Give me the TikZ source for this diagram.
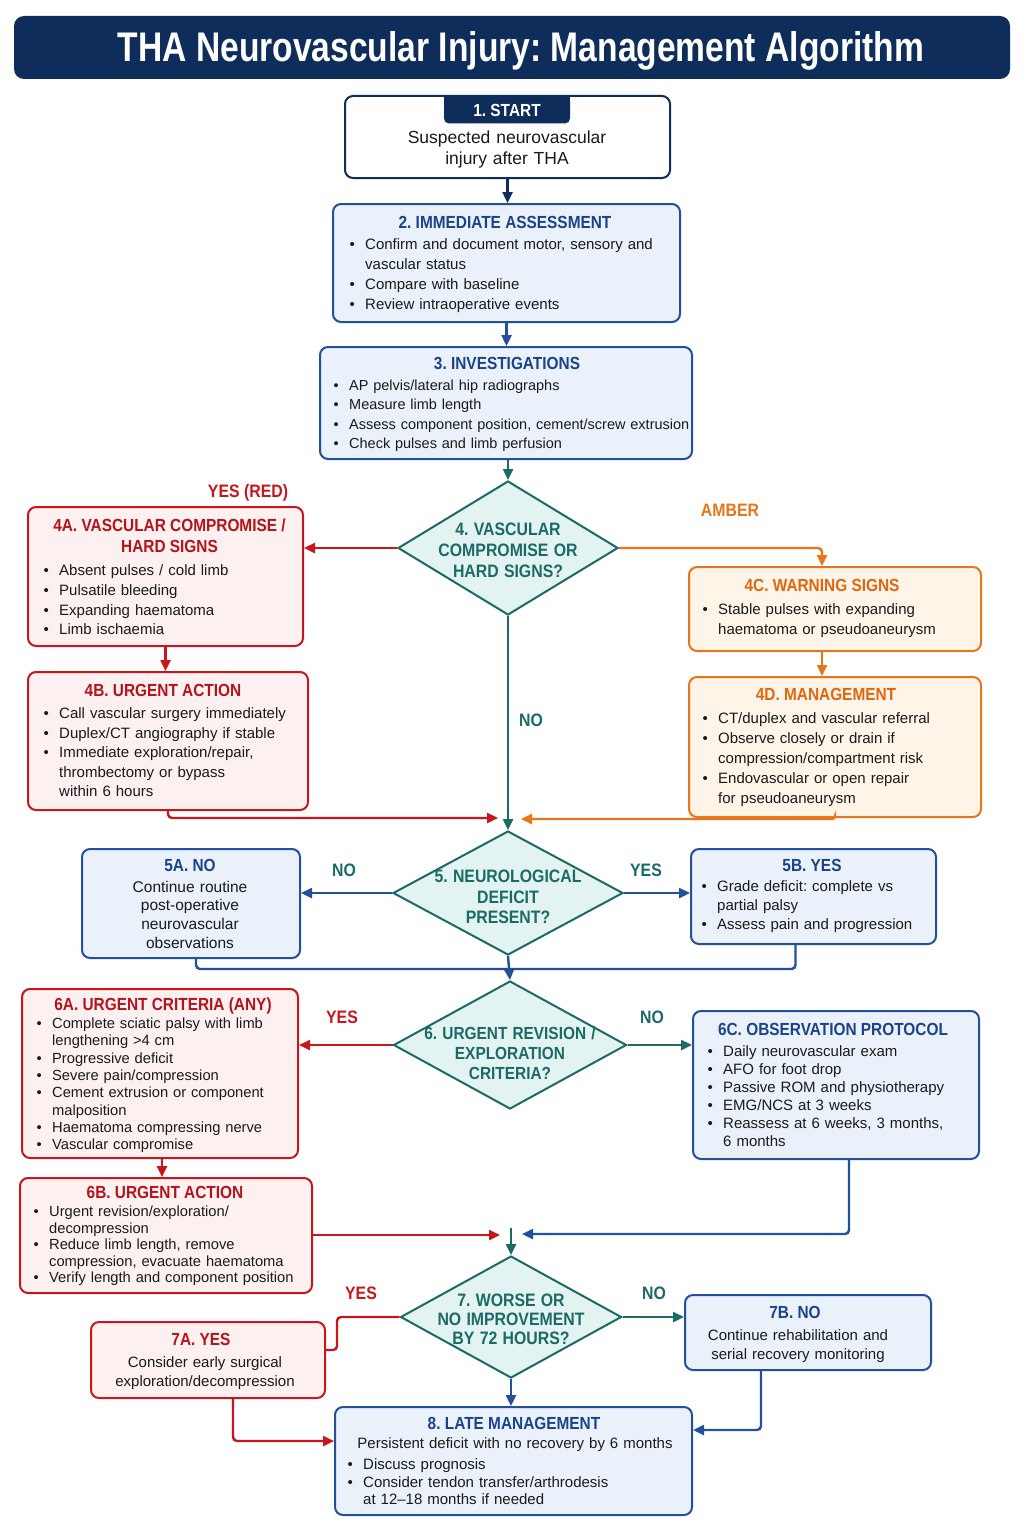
\documentclass[tikz,border=0pt]{standalone}
\usepackage{fontspec}
\setmainfont{Liberation Sans}
\usepackage{graphicx}
\usetikzlibrary{arrows.meta,shapes.geometric}
\definecolor{navy}{HTML}{0E2D5A}
\definecolor{bluec}{HTML}{22509C}
\definecolor{bluet}{HTML}{1A438A}
\definecolor{bluef}{HTML}{EAF1FA}
\definecolor{tealc}{HTML}{1B6A66}
\definecolor{tealf}{HTML}{E2F3F1}
\definecolor{redc}{HTML}{C8161D}
\definecolor{redt}{HTML}{B4131A}
\definecolor{redf}{HTML}{FDF0F0}
\definecolor{orc}{HTML}{E8751A}
\definecolor{ort}{HTML}{E0670F}
\definecolor{orf}{HTML}{FFF4E8}
\definecolor{ink}{HTML}{1A1A1A}
\newcommand\itm[1]{\noindent\hangindent=13.5pt\hangafter=1\hbox to13.5pt{\kern-2pt\textbullet\hss}#1\par}
\newcommand\nl{\hfil\break}
\newcommand\hd[1]{\scalebox{0.88}[1]{#1}}
\begin{document}
\frenchspacing
\begin{tikzpicture}[x=1pt,y=-1pt,
  bx/.style={draw, line width=2pt, rounded corners=8pt, inner sep=0pt},
  bxb/.style={bx, draw=bluec, fill=bluef},
  bxr/.style={bx, draw=redc, fill=redf},
  bxo/.style={bx, draw=orc, fill=orf},
  dia/.style={diamond, draw=tealc, fill=tealf, line width=2pt, inner sep=0pt},
  ttl/.style={anchor=base, inner sep=0pt, yshift=-6.2pt, font=\fontsize{17.5}{21}\selectfont\bfseries},
  bod/.style={anchor=north west, inner sep=0pt, yshift=6.3pt, text width=400pt, align=left, text=ink},
  cbod/.style={anchor=north, inner sep=0pt, yshift=6.3pt, align=center, text=ink},
  lbl/.style={anchor=base, inner sep=0pt, yshift=-6.4pt, font=\fontsize{18}{21}\selectfont\bfseries},
  dtxt/.style={anchor=center, inner sep=0pt, text width=230pt, align=center, text=tealc},
  arr/.style={line width=2.4pt, -{Triangle[length=11pt,width=10pt]}},
  con/.style={line width=2.4pt},
]
\path[use as bounding box, fill=white] (0,0) rectangle (1024,1536);

% title
\node[fill=navy, rounded corners=10pt, minimum width=996pt, minimum height=63pt, inner sep=0pt] (bar) at (512,47.5) {};
\node[anchor=base, inner sep=0pt, text=white, font=\bfseries] (ttl0) at (521,62) {\resizebox{806pt}{30pt}{THA Neurovascular Injury: Management Algorithm}};

% 1
\node[bx, draw=navy, fill=white, minimum width=325pt, minimum height=82pt] (n1) at (507.5,137) {};
\fill[navy] (444,96) rectangle (570,108);
\node[fill=navy, rounded corners=5pt, minimum width=126pt, minimum height=27pt, inner sep=0pt, text=white, font=\fontsize{17.5}{21}\selectfont\bfseries] (tab) at (507,110) {\hd{1. START}};
\node[cbod, text width=300pt, yshift=0.7pt, font=\fontsize{17.5}{21}\selectfont] (t1) at (507,138) {Suspected neurovascular\\injury after THA};

% 2
\node[bxb, minimum width=347pt, minimum height=118pt] (n2) at (506.5,263) {};
\node[ttl, text=bluet] (t2) at (505,222) {\hd{2. IMMEDIATE ASSESSMENT}};
\node[bod, font=\fontsize{15}{20}\selectfont] (b2) at (351.5,245) {\itm{Confirm and document motor, sensory and\nl vascular status}\itm{Compare with baseline}\itm{Review intraoperative events}};

% 3
\node[bxb, minimum width=372pt, minimum height=112pt] (n3) at (506,403) {};
\node[ttl, text=bluet] (t3) at (507,363) {\hd{3. INVESTIGATIONS}};
\node[bod, font=\fontsize{14.5}{19.3}\selectfont] (b3) at (335.5,386) {\itm{AP pelvis/lateral hip radiographs}\itm{Measure limb length}\itm{Assess component position, cement/screw extrusion}\itm{Check pulses and limb perfusion}};

% d4
\node[dia, minimum width=220pt, minimum height=134pt] (d4) at (508,548) {};
\node[dtxt, font=\fontsize{18}{21}\selectfont\bfseries] (td4) at (508,550) {\hd{4. VASCULAR}\\\hd{COMPROMISE OR}\\\hd{HARD SIGNS?}};

% 4A
\node[bxr, minimum width=275pt, minimum height=139pt] (n4a) at (165.5,576.5) {};
\node[ttl, text=redt] (t4a) at (169.5,525) {\hd{4A. VASCULAR COMPROMISE /}};
\node[ttl, text=redt] (t4a2) at (169.5,546) {\hd{HARD SIGNS}};
\node[bod, font=\fontsize{15}{19.7}\selectfont] (b4a) at (45.5,571) {\itm{Absent pulses / cold limb}\itm{Pulsatile bleeding}\itm{Expanding haematoma}\itm{Limb ischaemia}};

% 4B
\node[bxr, minimum width=280pt, minimum height=138pt] (n4b) at (168,741) {};
\node[ttl, text=redt] (t4b) at (163,690) {\hd{4B. URGENT ACTION}};
\node[bod, font=\fontsize{15}{19.5}\selectfont] (b4b) at (45.5,714) {\itm{Call vascular surgery immediately}\itm{Duplex/CT angiography if stable}\itm{Immediate exploration/repair,\nl thrombectomy or bypass\nl within 6 hours}};

% 4C
\node[bxo, minimum width=292pt, minimum height=84pt] (n4c) at (835,609) {};
\node[ttl, text=ort] (t4c) at (822,585) {\hd{4C. WARNING SIGNS}};
\node[bod, font=\fontsize{15}{20}\selectfont] (b4c) at (704.5,610) {\itm{Stable pulses with expanding\nl haematoma or pseudoaneurysm}};

% 4D
\node[bxo, minimum width=292pt, minimum height=140pt] (n4d) at (835,747) {};
\node[ttl, text=ort] (t4d) at (826,694) {\hd{4D. MANAGEMENT}};
\node[bod, font=\fontsize{15}{20}\selectfont] (b4d) at (704.5,719) {\itm{CT/duplex and vascular referral}\itm{Observe closely or drain if\nl compression/compartment risk}\itm{Endovascular or open repair\nl for pseudoaneurysm}};

% d5
\node[dia, minimum width=230pt, minimum height=124pt] (d5) at (508,893) {};
\node[dtxt, font=\fontsize{18}{20.5}\selectfont\bfseries] (td5) at (508,897) {\hd{5. NEUROLOGICAL}\\\hd{DEFICIT}\\\hd{PRESENT?}};

% 5A
\node[bxb, minimum width=218pt, minimum height=109pt] (n5a) at (191,903.5) {};
\node[ttl, text=bluet] (t5a) at (190,865) {\hd{5A. NO}};
\node[cbod, text width=210pt, font=\fontsize{15.5}{18.7}\selectfont] (b5a) at (190,887) {Continue routine\\post-operative\\neurovascular\\observations};

% 5B
\node[bxb, minimum width=245pt, minimum height=95pt] (n5b) at (813.5,896.5) {};
\node[ttl, text=bluet] (t5b) at (812,865) {\hd{5B. YES}};
\node[bod, font=\fontsize{15}{19}\selectfont] (b5b) at (703.5,887) {\itm{Grade deficit: complete vs\nl partial palsy}\itm{Assess pain and progression}};

% d6
\node[dia, minimum width=233pt, minimum height=128pt] (d6) at (510,1045) {};
\node[dtxt, font=\fontsize{17.5}{20}\selectfont\bfseries] (td6) at (510,1053) {\hd{6. URGENT REVISION /}\\\hd{EXPLORATION}\\\hd{CRITERIA?}};

% 6A
\node[bxr, minimum width=276pt, minimum height=169pt] (n6a) at (160,1073.5) {};
\node[ttl, text=redt] (t6a) at (163,1004) {\hd{6A. URGENT CRITERIA (ANY)}};
\node[bod, font=\fontsize{14.7}{17.3}\selectfont] (b6a) at (38.5,1024) {\itm{Complete sciatic palsy with limb\nl lengthening >4 cm}\itm{Progressive deficit}\itm{Severe pain/compression}\itm{Cement extrusion or component\nl malposition}\itm{Haematoma compressing nerve}\itm{Vascular compromise}};

% 6B
\node[bxr, minimum width=292pt, minimum height=115pt] (n6b) at (166,1235.5) {};
\node[ttl, text=redt] (t6b) at (165,1192) {\hd{6B. URGENT ACTION}};
\node[bod, font=\fontsize{14.7}{16.5}\selectfont] (b6b) at (35.5,1212) {\itm{Urgent revision/exploration/\nl decompression}\itm{Reduce limb length, remove\nl compression, evacuate haematoma}\itm{Verify length and component position}};

% 6C
\node[bxb, minimum width=286pt, minimum height=148pt] (n6c) at (836,1085) {};
\node[ttl, text=bluet] (t6c) at (833,1029) {\hd{6C. OBSERVATION PROTOCOL}};
\node[bod, font=\fontsize{15}{18}\selectfont] (b6c) at (709.5,1052) {\itm{Daily neurovascular exam}\itm{AFO for foot drop}\itm{Passive ROM and physiotherapy}\itm{EMG/NCS at 3 weeks}\itm{Reassess at 6 weeks, 3 months,\nl 6 months}};

% d7
\node[dia, minimum width=221pt, minimum height=122pt] (d7) at (511,1317) {};
\node[dtxt, font=\fontsize{18}{19}\selectfont\bfseries] (td7) at (511,1319) {\hd{7. WORSE OR}\\\hd{NO IMPROVEMENT}\\\hd{BY 72 HOURS?}};

% 7A
\node[bxr, minimum width=234pt, minimum height=76pt] (n7a) at (208,1360) {};
\node[ttl, text=redt] (t7a) at (201,1339) {\hd{7A. YES}};
\node[cbod, text width=230pt, font=\fontsize{15}{19}\selectfont] (b7a) at (205,1363) {Consider early surgical\\exploration/decompression};

% 7B
\node[bxb, minimum width=246pt, minimum height=75pt] (n7b) at (808,1332.5) {};
\node[ttl, text=bluet] (t7b) at (795,1312) {\hd{7B. NO}};
\node[cbod, text width=240pt, font=\fontsize{15}{19}\selectfont] (b7b) at (798,1336) {Continue rehabilitation and\\serial recovery monitoring};

% 8
\node[bxb, minimum width=357pt, minimum height=108pt] (n8) at (513.5,1461) {};
\node[ttl, text=bluet] (t8) at (514,1423) {\hd{8. LATE MANAGEMENT}};
\node[cbod, text width=350pt, font=\fontsize{15}{19}\selectfont] (c8) at (515,1444) {Persistent deficit with no recovery by 6 months};
\node[bod, font=\fontsize{15}{17.5}\selectfont] (b8) at (349.5,1465) {\itm{Discuss prognosis}\itm{Consider tendon transfer/arthrodesis\nl at 12--18 months if needed}};

% labels
\node[lbl, text=redc] (l4y) at (248,491) {\hd{YES (RED)}};
\node[lbl, text=orc] (l4a) at (730,510) {\hd{AMBER}};
\node[lbl, text=tealc] (l4n) at (531,720) {\hd{NO}};
\node[lbl, text=tealc] (l5n) at (344,870) {\hd{NO}};
\node[lbl, text=tealc] (l5y) at (646,870) {\hd{YES}};
\node[lbl, text=redc] (l6y) at (342,1017) {\hd{YES}};
\node[lbl, text=tealc] (l6n) at (652,1017) {\hd{NO}};
\node[lbl, text=redc] (l7y) at (361,1293) {\hd{YES}};
\node[lbl, text=tealc] (l7n) at (654,1293) {\hd{NO}};

% coordinates
\coordinate (m5l) at (498,818);
\coordinate (m5r) at (521,819);
\coordinate (j6) at (510,969);
\coordinate (m7l) at (500,1235);
\coordinate (m7r) at (522,1234);
\coordinate (j7) at (511,1228);
\coordinate (k7) at (337,1350);

% connectors
\draw[arr, navy] (n1.south) -- (n1.south |- n2.north);
\draw[arr, bluec] (n2.south) -- (n2.south |- n3.north);
\draw[arr, tealc] (d4.north |- n3.south) -- (d4.north);
\draw[arr, redc] (d4.west) -- (d4.west -| n4a.east);
\draw[arr, redc] (n4a.south) -- (n4a.south |- n4b.north);
\draw[arr, redc, rounded corners=4pt] (n4b.south) |- (m5l);
\draw[arr, orc, rounded corners=4pt] (d4.east) -| ([xshift=-13pt]n4c.north);
\draw[arr, orc] ([xshift=-13pt]n4c.south) -- ([xshift=-13pt]n4d.north);
\draw[arr, orc, rounded corners=3pt] (n4d.south) |- (m5r);
\draw[arr, tealc] (d4.south) -- (d5.north);
\draw[arr, bluec] (d5.west) -- (d5.west -| n5a.east);
\draw[arr, bluec] (d5.east) -- (d5.east -| n5b.west);
\draw[con, bluec, rounded corners=4pt] ([xshift=5pt]n5a.south) |- (j6) -| ([xshift=-18pt]n5b.south);
\draw[arr, bluec] (d5.south) -- (d6.north);
\draw[arr, redc] (d6.west) -- (d6.west -| n6a.east);
\draw[arr, redc] ([xshift=2pt]n6a.south) -- ([xshift=2pt]n6a.south |- n6b.north);
\draw[arr, tealc] (d6.east) -- (d6.east -| n6c.west);
\draw[arr, redc] (n6b.east |- m7l) -- (m7l);
\draw[arr, bluec, rounded corners=4pt] ([xshift=13pt]n6c.south) |- (m7r);
\draw[arr, tealc] (j7) -- (d7.north);
\draw[con, redc, rounded corners=4pt] (d7.west) -| (k7) -- (k7 -| n7a.east);
\draw[arr, tealc] (d7.east) -- (d7.east -| n7b.west);
\draw[arr, bluec] (d7.south) -- (d7.south |- n8.north);
\draw[arr, redc, rounded corners=4pt] ([xshift=25pt]n7a.south) |- ([yshift=20pt]n8.west);
\draw[arr, bluec, rounded corners=4pt] ([xshift=-47pt]n7b.south) |- ([yshift=31pt]n8.east);
\end{tikzpicture}
\end{document}
